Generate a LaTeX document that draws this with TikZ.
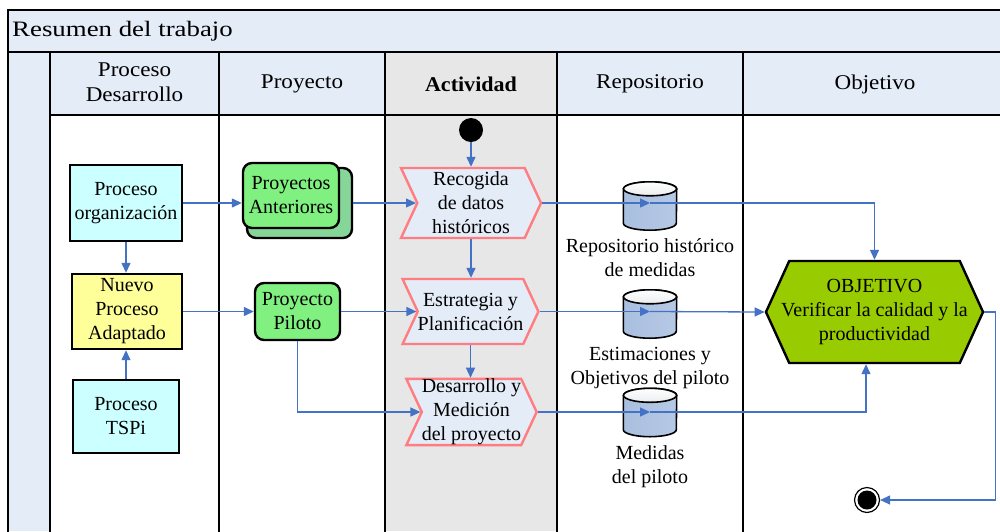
\documentclass[tikz,border=0pt]{standalone}
\usepackage{fontspec}
\setmainfont{Liberation Serif}
\usetikzlibrary{shapes.geometric,shapes.symbols,arrows.meta,calc}
\definecolor{hdr}{HTML}{E4ECF7}
\definecolor{actgrey}{HTML}{E7E7E7}
\definecolor{cyanbox}{HTML}{CCFFFF}
\definecolor{yelbox}{HTML}{FFFF99}
\definecolor{grn}{HTML}{80F080}
\definecolor{grnback}{HTML}{86D69A}
\definecolor{pinkb}{HTML}{FF7C80}
\definecolor{chevfill}{HTML}{E4ECF7}
\definecolor{objfill}{HTML}{99CC00}
\definecolor{arrblue}{HTML}{4472C4}
\definecolor{cylL}{HTML}{A9BFDF}
\definecolor{cylM}{HTML}{EDF2FA}
\definecolor{cylR}{HTML}{B6C9E5}
\begin{document}
\begin{tikzpicture}[x=1pt,y=-1pt,
  lane/.style={line width=2.6, line cap=rect},
  txt/.style={font=\fontsize{20}{24}\selectfont, align=center, inner sep=0pt},
  hdrtxt/.style={font=\fontsize{21}{26}\selectfont, align=center, inner sep=0pt},
  procbox/.style={txt, draw, line width=2.4},
  greenbox/.style={txt, draw, line width=2.4, rounded corners=9, fill=grn},
  chev/.style={txt, shape=signal, signal to=east, signal from=west, signal pointer angle=130, draw=pinkb, line width=2.4, fill=chevfill},
  cylbox/.style={minimum width=53, minimum height=48, inner sep=0pt},
  arr/.style={draw=arrblue, line width=1.3, -{Triangle[length=10,width=9]}}
]
\useasboundingbox (0,0) rectangle (1000,531);
% backgrounds
\fill[hdr] (8,10) rectangle (1000,52);
\fill[hdr] (8,52) rectangle (50,531);
\fill[hdr] (50,52) rectangle (1000,115);
\fill[actgrey] (385,52) rectangle (557,531);
% lane lines
\draw[lane] (1001,10) -- (8,10) -- (8,532);
\draw[lane] (8,52) -- (1001,52);
\draw[lane] (50,115) -- (1001,115);
\foreach \xx in {50,219,385,557,743} \draw[lane] (\xx,52) -- (\xx,532);
% title and headers
\node[anchor=west, inner sep=0pt] (title) at (12,31) {\scalebox{1.22}[1]{\fontsize{22}{26}\selectfont Resumen del trabajo}};
\node[hdrtxt] (h1) at (134.5,84) {\scalebox{1.1}[1]{\begin{tabular}{@{}c@{}}Proceso\\[-1pt]Desarrollo\end{tabular}}};
\node[hdrtxt] (h2) at (302,84) {\scalebox{1.1}[1]{Proyecto}};
\node[hdrtxt] (h3) at (471,84) {\scalebox{1.05}[1]{\bfseries Actividad}};
\node[hdrtxt] (h4) at (650,84) {\scalebox{1.1}[1]{Repositorio}};
\node[hdrtxt] (h5) at (875,84) {\scalebox{1.1}[1]{Objetivo}};
% process nodes
\node[procbox, fill=cyanbox, minimum width=112, minimum height=76] (org) at (126,203) {Proceso\\organización};
\node[procbox, fill=yelbox, minimum width=110, minimum height=75] (nuevo) at (127,311.5) {Nuevo\\Proceso\\Adaptado};
\node[procbox, fill=cyanbox, minimum width=106, minimum height=73] (tspi) at (126,416.5) {Proceso\\TSPi};
% project nodes
\node[greenbox, fill=grnback, minimum width=105, minimum height=70] (pab) at (299.5,203) {};
\node[greenbox, minimum width=96, minimum height=65] (pa) at (291,195.5) {Proyectos\\Anteriores};
\node[greenbox, minimum width=85, minimum height=57] (pil) at (297.5,311.5) {Proyecto\\Piloto};
% activities
\node[circle, fill=black, minimum size=24, inner sep=0pt] (st) at (471,130) {};
\node[chev, minimum width=140, minimum height=70] (rec) at (471,203) {Recogida\\de datos\\históricos};
\node[chev, minimum width=131, minimum height=65] (est) at (470.5,311.5) {Estrategia y\\Planificación};
\node[chev, minimum width=129, minimum height=66] (dev) at (471.5,412) {Desarrollo y\\Medición\\del proyecto};
% repositories
\node[cylbox] (c1) at (650,206) {};
\node[cylbox] (c2) at (650,314) {};
\node[cylbox] (c3) at (650,412.5) {};
\foreach \c in {c1,c2,c3} {
  \draw[line width=1.6, left color=cylL, middle color=cylM, right color=cylR, shading angle=90]
    ($(\c.north west)+(0,7)$) -- ($(\c.south west)+(0,-7)$)
    arc[start angle=180, end angle=360, x radius=26.5pt, y radius=7pt]
    -- ($(\c.north east)+(0,7)$)
    arc[start angle=0, end angle=180, x radius=26.5pt, y radius=7pt] -- cycle;
  \draw[line width=1.6, top color=white, bottom color=cylM!70!gray!40]
    ($(\c.north)+(0,7)$) ellipse[x radius=26.5pt, y radius=7pt];
}
\node[txt] (l1) at (650,258) {Repositorio histórico\\de medidas};
\node[txt] (l2) at (650,368) {Estimaciones y\\Objetivos del piloto};
\node[txt] (l3) at (650,467) {Medidas\\del piloto};
% objective
\node[txt, shape=signal, signal to=east and west, signal pointer angle=131, draw, line width=2.4, fill=objfill, inner xsep=-8pt, minimum height=102] (obj) at (874.5,312) {OBJETIVO\\Verificar la calidad y la\\productividad};
\node[circle, draw, line width=1.2, minimum size=25, inner sep=0pt, path picture={\fill[black] (path picture bounding box.center) circle (9.5pt);}] (end) at (867,500) {};
% connectors
\draw[arr] (st) -- (rec);
\draw[arr] (org.east) -- (org.east -| pa.west);
\draw[arr] (org.south) -- (org.south |- nuevo.north);
\draw[arr] (tspi.north) -- (tspi.north |- nuevo.south);
\draw[arr] (nuevo) -- (pil);
\draw[arr] (pab.east) -- (rec.west);
\draw[arr] (pil.east) -- (est.west);
\draw[arr] (pil.south) |- (dev.west);
\draw[arr] (rec.south) -- (rec.south |- est.north);
\draw[arr] (est.south) -- (est.south |- dev.north);
\draw[arr] (rec.east) -- (c1.center |- rec.east);
\draw[arr] (c1.center |- rec.east) -| (obj.north);
\draw[arr] (est.east) -- (c2.center |- est.east);
\draw[arr] (c2.center |- est.east) -- (obj.west);
\draw[arr] (dev.east) -- (c3.center |- dev.east);
\draw[arr] (c3.center |- dev.east) -| ([xshift=-8.5pt]obj.south);
\draw[arr] (obj.east) -- ++(11,0) |- (end.east);
\end{tikzpicture}
\end{document}
